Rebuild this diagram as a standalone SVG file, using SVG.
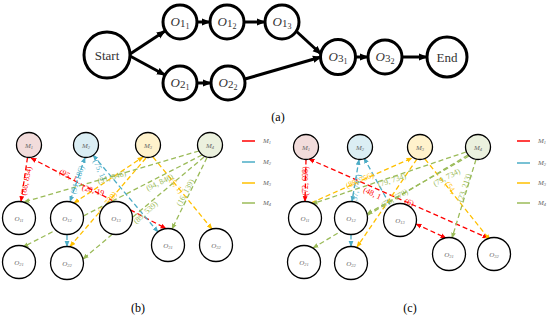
<svg xmlns="http://www.w3.org/2000/svg" width="550" height="318" viewBox="0 0 550 318">
<defs>
<style>
.bk{fill:#fff;stroke:#000;stroke-width:3}
.bl{stroke:#000;stroke-width:3;fill:none}
.nt{font-family:"Liberation Serif",serif;font-size:13px;fill:#333;text-anchor:middle}
.ot{font-family:"Liberation Serif",serif;font-size:13px;fill:#333;text-anchor:middle}
.cap{font-family:"Liberation Serif",serif;font-size:12px;fill:#000;text-anchor:middle}
.m{stroke:#000;stroke-width:1.3}
.o{fill:#fff;stroke:#000;stroke-width:1.3}
.sm{font-family:"Liberation Serif",serif;font-size:7px;fill:#666;text-anchor:middle;font-style:italic}
.d{fill:none;stroke-width:1.3;stroke-dasharray:5 3}
.r{stroke:#ff0000}.b{stroke:#4bacc6}.y{stroke:#ffc000}.g{stroke:#9bbb59}
.lr{fill:#ff0000}.lb{fill:#4bacc6}.ly{fill:#ffc000}.lg{fill:#9bbb59}
.lab{font-family:"Liberation Serif",serif;font-size:8px;text-anchor:middle;dominant-baseline:middle}
.leg{stroke-width:1.5}
</style>
<marker id="ak" viewBox="0 0 10 10" refX="9" refY="5" markerWidth="9" markerHeight="9" markerUnits="userSpaceOnUse" orient="auto"><path d="M0,1 L10,5 L0,9 z" fill="#000"/></marker>
<marker id="ar" viewBox="0 0 10 10" refX="9" refY="5" markerWidth="6" markerHeight="6" markerUnits="userSpaceOnUse" orient="auto-start-reverse"><path d="M0,1 L10,5 L0,9 z" fill="#ff0000"/></marker>
<marker id="ab" viewBox="0 0 10 10" refX="9" refY="5" markerWidth="6" markerHeight="6" markerUnits="userSpaceOnUse" orient="auto-start-reverse"><path d="M0,1 L10,5 L0,9 z" fill="#4bacc6"/></marker>
<marker id="ay" viewBox="0 0 10 10" refX="9" refY="5" markerWidth="6" markerHeight="6" markerUnits="userSpaceOnUse" orient="auto-start-reverse"><path d="M0,1 L10,5 L0,9 z" fill="#ffc000"/></marker>
<marker id="ag" viewBox="0 0 10 10" refX="9" refY="5" markerWidth="6" markerHeight="6" markerUnits="userSpaceOnUse" orient="auto-start-reverse"><path d="M0,1 L10,5 L0,9 z" fill="#9bbb59"/></marker>
</defs>
<rect width="550" height="318" fill="#fff"/>

<!-- (a) connectors -->
<g id="edges-a" class="bl" marker-end="url(#ak)">
<line x1="130" y1="54" x2="165" y2="31"/>
<line x1="130" y1="56" x2="165" y2="75"/>
<line x1="197" y1="22" x2="210" y2="22"/>
<line x1="244" y1="22" x2="265" y2="22"/>
<line x1="197" y1="83" x2="211" y2="83"/>
<line x1="296" y1="31" x2="321" y2="54"/>
<line x1="245" y1="79" x2="321" y2="57"/>
<line x1="356" y1="57" x2="368" y2="57"/>
<line x1="402" y1="57" x2="427" y2="57"/>
</g>
<!-- (a) nodes -->
<g id="a-start"><circle class="bk" cx="107" cy="55" r="23"/><text class="nt" x="107" y="60">Start</text></g>
<g id="a-o11"><circle class="bk" cx="180" cy="22" r="17"/><text class="ot" x="180" y="26"><tspan font-style="italic">O</tspan><tspan font-size="11" dy="1">1</tspan><tspan font-size="8" dy="2">1</tspan></text></g>
<g id="a-o12"><circle class="bk" cx="227" cy="22" r="17"/><text class="ot" x="227" y="26"><tspan font-style="italic">O</tspan><tspan font-size="11" dy="1">1</tspan><tspan font-size="8" dy="2">2</tspan></text></g>
<g id="a-o13"><circle class="bk" cx="282" cy="22" r="17"/><text class="ot" x="282" y="26"><tspan font-style="italic">O</tspan><tspan font-size="11" dy="1">1</tspan><tspan font-size="8" dy="2">3</tspan></text></g>
<g id="a-o21"><circle class="bk" cx="180" cy="83" r="17"/><text class="ot" x="180" y="87"><tspan font-style="italic">O</tspan><tspan font-size="11" dy="1">2</tspan><tspan font-size="8" dy="2">1</tspan></text></g>
<g id="a-o22"><circle class="bk" cx="228" cy="83" r="17"/><text class="ot" x="228" y="87"><tspan font-style="italic">O</tspan><tspan font-size="11" dy="1">2</tspan><tspan font-size="8" dy="2">2</tspan></text></g>
<g id="a-o31"><circle class="bk" cx="338" cy="57" r="17.5"/><text class="ot" x="338" y="61"><tspan font-style="italic">O</tspan><tspan font-size="11" dy="1">3</tspan><tspan font-size="8" dy="2">1</tspan></text></g>
<g id="a-o32"><circle class="bk" cx="385" cy="57" r="17"/><text class="ot" x="385" y="61"><tspan font-style="italic">O</tspan><tspan font-size="11" dy="1">3</tspan><tspan font-size="8" dy="2">2</tspan></text></g>
<g id="a-end"><circle class="bk" cx="447" cy="57" r="20"/><text class="nt" x="447" y="62">End</text></g>
<text class="cap" x="278" y="121">(a)</text>

<!-- (b) connectors -->
<g id="edges-b">
<line class="d r" x1="27.5" y1="157.5" x2="21" y2="201.5" marker-end="url(#ar)"/>
<line class="d r" x1="31" y1="158" x2="166" y2="228.5" marker-start="url(#ar)" marker-end="url(#ar)"/>
<line class="d b" x1="85" y1="157.5" x2="70" y2="201.5" marker-start="url(#ab)" marker-end="url(#ab)"/>
<line class="d b" x1="67" y1="235" x2="67" y2="246.5" marker-end="url(#ab)"/>
<line class="d b" x1="93" y1="155" x2="158" y2="232" marker-start="url(#ab)" marker-end="url(#ab)"/>
<line class="d y" x1="74" y1="203" x2="143" y2="157" marker-start="url(#ay)" marker-end="url(#ay)"/>
<line class="d y" x1="146" y1="158" x2="70" y2="246.5" marker-end="url(#ay)"/>
<line class="d y" x1="153" y1="157" x2="212" y2="229" marker-end="url(#ay)"/>
<line class="d g" x1="199" y1="151" x2="24" y2="202" marker-end="url(#ag)"/>
<line class="d g" x1="202" y1="155" x2="23" y2="247" marker-end="url(#ag)"/>
<line class="d g" x1="204" y1="157" x2="83" y2="259" marker-end="url(#ag)"/>
<line class="d g" x1="207" y1="157.5" x2="172" y2="229" marker-end="url(#ag)"/>
</g>
<g id="labels-b" class="lab">
<text class="lr" transform="translate(27,181) rotate(-78)">(86, 834)</text>
<text class="lr" transform="translate(68,176) rotate(27)">(95, 1</text>
<text class="lr" transform="translate(93,191) rotate(15)">(20, 19</text>
<text class="lb" transform="translate(78,180) rotate(-72)">(91, 186)</text>
<text class="lb" transform="translate(99,170) rotate(65)">(75, 1)</text>
<text class="ly" transform="translate(108,203) rotate(-52)">(1, 739)</text>
<text class="ly" transform="translate(176,186) rotate(52)">(5, 1)</text>
<text class="lg" transform="translate(112,178) rotate(-17)">(91, 846)</text>
<text class="lg" transform="translate(160,183) rotate(-26)">(94, 846)</text>
<text class="lg" transform="translate(146,213) rotate(-42)">(89, 539)</text>
<text class="lg" transform="translate(186,193) rotate(-62)">(16, 139)</text>
</g>
<!-- (b) nodes -->
<g id="b-m1"><circle class="m" cx="29" cy="145" r="12.5" fill="#f2dcdb"/><text class="sm" x="29" y="147.5">M<tspan font-size="4.5" dy="1">1</tspan></text></g>
<g id="b-m2"><circle class="m" cx="86" cy="145" r="12.5" fill="#dbeef4"/><text class="sm" x="86" y="147.5">M<tspan font-size="4.5" dy="1">2</tspan></text></g>
<g id="b-m3"><circle class="m" cx="148" cy="145" r="12.5" fill="#fff2cc"/><text class="sm" x="148" y="147.5">M<tspan font-size="4.5" dy="1">3</tspan></text></g>
<g id="b-m4"><circle class="m" cx="210" cy="145" r="12.5" fill="#ebf1de"/><text class="sm" x="210" y="147.5">M<tspan font-size="4.5" dy="1">4</tspan></text></g>
<g id="b-o11"><circle class="o" cx="19" cy="218" r="16.5"/><text class="sm" x="19" y="220.5">O<tspan font-size="4.5" dy="1">11</tspan></text></g>
<g id="b-o12"><circle class="o" cx="67" cy="218" r="16.5"/><text class="sm" x="67" y="220.5">O<tspan font-size="4.5" dy="1">12</tspan></text></g>
<g id="b-o13"><circle class="o" cx="116" cy="218" r="16.5"/><text class="sm" x="116" y="220.5">O<tspan font-size="4.5" dy="1">13</tspan></text></g>
<g id="b-o21"><circle class="o" cx="19" cy="262" r="16.5"/><text class="sm" x="19" y="264.5">O<tspan font-size="4.5" dy="1">21</tspan></text></g>
<g id="b-o22"><circle class="o" cx="67" cy="263" r="16.5"/><text class="sm" x="67" y="265.5">O<tspan font-size="4.5" dy="1">22</tspan></text></g>
<g id="b-o31"><circle class="o" cx="168" cy="245" r="16.5"/><text class="sm" x="168" y="247.5">O<tspan font-size="4.5" dy="1">31</tspan></text></g>
<g id="b-o32"><circle class="o" cx="216" cy="245" r="16.5"/><text class="sm" x="216" y="247.5">O<tspan font-size="4.5" dy="1">32</tspan></text></g>
<g id="b-legend">
<line class="leg r" x1="242" y1="141" x2="255" y2="141"/><text class="sm" x="267" y="143">M<tspan font-size="4.5" dy="1">1</tspan></text>
<line class="leg b" x1="242" y1="162" x2="255" y2="162"/><text class="sm" x="267" y="164">M<tspan font-size="4.5" dy="1">2</tspan></text>
<line class="leg y" x1="242" y1="183" x2="255" y2="183"/><text class="sm" x="267" y="185">M<tspan font-size="4.5" dy="1">3</tspan></text>
<line class="leg g" x1="242" y1="203" x2="255" y2="203"/><text class="sm" x="267" y="205">M<tspan font-size="4.5" dy="1">4</tspan></text>
</g>
<text class="cap" x="138" y="312">(b)</text>

<!-- (c) connectors -->
<g id="edges-c">
<line class="d r" x1="306" y1="159.5" x2="305" y2="201.5" marker-end="url(#ar)"/>
<line class="d r" x1="309" y1="159" x2="488" y2="238" marker-start="url(#ar)" marker-end="url(#ar)"/>
<line class="d r" x1="416" y1="224" x2="446" y2="238" marker-start="url(#ar)" marker-end="url(#ar)"/>
<line class="d b" x1="359" y1="159.5" x2="352" y2="201.5" marker-start="url(#ab)" marker-end="url(#ab)"/>
<line class="d b" x1="351" y1="234.5" x2="351" y2="246.5" marker-end="url(#ab)"/>
<line class="d b" x1="364" y1="158" x2="390" y2="205" marker-start="url(#ab)"/>
<line class="d y" x1="311" y1="203" x2="412" y2="158" marker-end="url(#ay)"/>
<line class="d y" x1="417" y1="159" x2="357" y2="247" marker-end="url(#ay)"/>
<line class="d y" x1="425" y1="159" x2="490" y2="240" marker-end="url(#ay)"/>
<line class="d g" x1="466" y1="152" x2="312" y2="204" marker-end="url(#ag)"/>
<line class="d g" x1="468" y1="155" x2="313" y2="248" marker-end="url(#ag)"/>
<line class="d g" x1="469" y1="156" x2="367" y2="214" marker-end="url(#ag)"/>
<line class="d g" x1="476" y1="159.5" x2="452" y2="238" marker-end="url(#ag)"/>
</g>
<g id="labels-c" class="lab">
<text class="lr" transform="translate(306,181) rotate(-90)">(72, 698)</text>
<text class="lr" transform="translate(372,194) rotate(25)">(48, 1</text>
<text class="lr" transform="translate(409,203) rotate(20)">(6)</text>
<text class="lb" transform="translate(357,189) rotate(-80)">(37, 747)</text>
<text class="ly" transform="translate(360,181) rotate(-23)">(88, 756)</text>
<text class="ly" transform="translate(450,188) rotate(55)">(54,</text>
<text class="lg" transform="translate(392,181) rotate(-18)">(79, 734)</text>
<text class="lg" transform="translate(447,178) rotate(-28)">(79, 734)</text>
<text class="lg" transform="translate(395,199) rotate(-30)">(73, 678)</text>
<text class="lg" transform="translate(465,188) rotate(-72)">(23, 213)</text>
</g>
<!-- (c) nodes -->
<g id="c-m1"><circle class="m" cx="306" cy="147" r="12.5" fill="#f2dcdb"/><text class="sm" x="306" y="149.5">M<tspan font-size="4.5" dy="1">1</tspan></text></g>
<g id="c-m2"><circle class="m" cx="360" cy="147" r="12.5" fill="#dbeef4"/><text class="sm" x="360" y="149.5">M<tspan font-size="4.5" dy="1">2</tspan></text></g>
<g id="c-m3"><circle class="m" cx="420" cy="147" r="12.5" fill="#fff2cc"/><text class="sm" x="420" y="149.5">M<tspan font-size="4.5" dy="1">3</tspan></text></g>
<g id="c-m4"><circle class="m" cx="478" cy="147" r="12.5" fill="#ebf1de"/><text class="sm" x="478" y="149.5">M<tspan font-size="4.5" dy="1">4</tspan></text></g>
<g id="c-o11"><circle class="o" cx="305" cy="218" r="16.5"/><text class="sm" x="305" y="220.5">O<tspan font-size="4.5" dy="1">11</tspan></text></g>
<g id="c-o12"><circle class="o" cx="351" cy="218" r="16.5"/><text class="sm" x="351" y="220.5">O<tspan font-size="4.5" dy="1">12</tspan></text></g>
<g id="c-o13"><circle class="o" cx="400" cy="220" r="16.5"/><text class="sm" x="400" y="222.5">O<tspan font-size="4.5" dy="1">13</tspan></text></g>
<g id="c-o21"><circle class="o" cx="304" cy="262" r="16.5"/><text class="sm" x="304" y="264.5">O<tspan font-size="4.5" dy="1">21</tspan></text></g>
<g id="c-o22"><circle class="o" cx="351" cy="263" r="16.5"/><text class="sm" x="351" y="265.5">O<tspan font-size="4.5" dy="1">22</tspan></text></g>
<g id="c-o31"><circle class="o" cx="449" cy="254" r="16.5"/><text class="sm" x="449" y="256.5">O<tspan font-size="4.5" dy="1">31</tspan></text></g>
<g id="c-o32"><circle class="o" cx="494" cy="254" r="16.5"/><text class="sm" x="494" y="256.5">O<tspan font-size="4.5" dy="1">32</tspan></text></g>
<g id="c-legend">
<line class="leg r" x1="517" y1="141" x2="530" y2="141"/><text class="sm" x="542" y="143">M<tspan font-size="4.5" dy="1">1</tspan></text>
<line class="leg b" x1="517" y1="163" x2="530" y2="163"/><text class="sm" x="542" y="165">M<tspan font-size="4.5" dy="1">2</tspan></text>
<line class="leg y" x1="517" y1="183" x2="530" y2="183"/><text class="sm" x="542" y="185">M<tspan font-size="4.5" dy="1">3</tspan></text>
<line class="leg g" x1="517" y1="203" x2="530" y2="203"/><text class="sm" x="542" y="205">M<tspan font-size="4.5" dy="1">4</tspan></text>
</g>
<text class="cap" x="410" y="312">(c)</text>
</svg>
